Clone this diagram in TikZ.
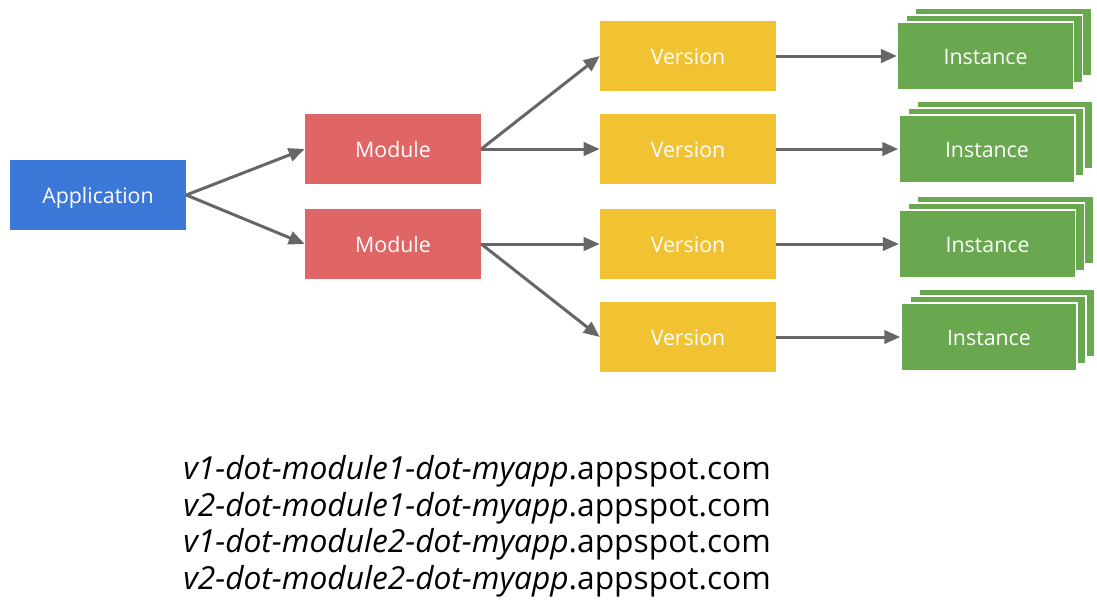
\documentclass[tikz,border=0pt]{standalone}
\usepackage{fontspec}
\setmainfont{Open Sans}
\usepackage{tikz}
\usetikzlibrary{
    positioning,
    arrows.meta,
    shadows
}
\definecolor{AppBlue}{RGB}{60,120,216}
\definecolor{ModRed}{RGB}{224,102,102}
\definecolor{VerYellow}{RGB}{241,194,50}
\definecolor{InstGreen}{RGB}{106,168,79}
\definecolor{ArrowGray}{RGB}{102,102,102}

\begin{document}
\begin{tikzpicture}[
    x=0.75pt, y=-0.75pt,
    box/.style={rectangle, inner sep=0pt, minimum width=132pt, minimum height=52.5pt, text height=17pt, text depth=4.7pt, font=\fontsize{16}{19}\selectfont, text=white},
    appbox/.style={box, fill=AppBlue},
    modbox/.style={box, fill=ModRed},
    verbox/.style={box, fill=VerYellow},
    instbox/.style={box, fill=InstGreen, draw=white, line width=1pt, minimum height=51pt, double copy shadow={shadow xshift=6.75pt, shadow yshift=5.25pt}},
    arr/.style={draw=ArrowGray, line width=2.25pt, -{Triangle[length=12pt,width=10pt]}},
    urls/.style={align=left, inner sep=0pt, font=\fontsize{23.8}{27.5}\selectfont},
]
\useasboundingbox (0,0) rectangle (1097,608);

\node[appbox] (app) at (98,195) {Application};
\node[modbox] (mod1) at (393,149) {Module};
\node[modbox] (mod2) at (393,244) {Module};
\node[verbox] (ver1) at (688,56) {Version};
\node[verbox] (ver2) at (688,149) {Version};
\node[verbox] (ver3) at (688,244) {Version};
\node[verbox] (ver4) at (688,337) {Version};
\node[instbox, right=90.5pt of ver1] (inst1) {Instance};
\node[instbox, right=91.5pt of ver2] (inst2) {Instance};
\node[instbox, right=92pt of ver3] (inst3) {Instance};
\node[instbox, right=93pt of ver4] (inst4) {Instance};

\draw[arr] (app.east) -- (mod1.west);
\draw[arr] (app.east) -- (mod2.west);
\draw[arr] (mod1.east) -- (ver1.west);
\draw[arr] (mod1.east) -- (ver2.west);
\draw[arr] (mod2.east) -- (ver3.west);
\draw[arr] (mod2.east) -- (ver4.west);
\foreach \i in {1,...,4}
    \draw[arr] (ver\i.east) -- (inst\i.west);

% host names
\node[urls, anchor=north west] (hosts) at (183,455) {%
    \textit{v1-dot-module1-dot-myapp}.appspot.com\\
    \textit{v2-dot-module1-dot-myapp}.appspot.com\\
    \textit{v1-dot-module2-dot-myapp}.appspot.com\\
    \textit{v2-dot-module2-dot-myapp}.appspot.com};
\end{tikzpicture}
\end{document}
